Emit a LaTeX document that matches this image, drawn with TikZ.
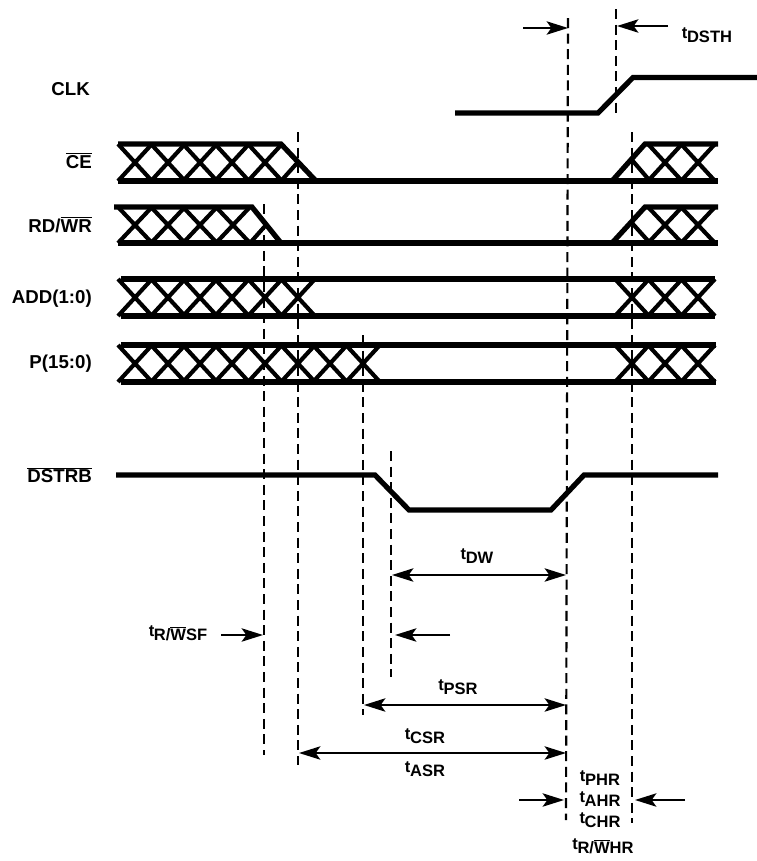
\documentclass[tikz,border=0pt]{standalone}
\usepackage{fontspec}
\setmainfont{Liberation Sans}
\usetikzlibrary{arrows.meta}
\newcommand{\barred}[1]{\ensuremath{\overline{\mbox{#1}}}}
\newcommand{\tsub}[1]{t\kern-0.3pt\raisebox{-3pt}{#1}}
\tikzset{
    wave/.style={line width=3.9pt, line join=miter},
    xing/.style={line width=3.1pt},
    guide/.style={line width=1.6pt, dash pattern=on 7.5pt off 4.2pt},
    dim/.style={line width=1.6pt, -{Stealth[length=16pt,width=10pt,inset=3.5pt]}},
    dimboth/.style={line width=1.6pt, {Stealth[length=16pt,width=10pt,inset=3.5pt]}-{Stealth[length=16pt,width=10pt,inset=3.5pt]}},
    sig/.style={font=\bfseries\fontsize{14}{16}\selectfont, anchor=east, inner sep=0pt},
    tname/.style={font=\bfseries\fontsize{12.4}{14}\selectfont, inner sep=0pt}
}
\begin{document}
\begin{tikzpicture}[x=0.75pt, y=-0.75pt]
    \useasboundingbox (0,0) rectangle (757,861);

    % signal names
    \node[sig] (clk) at (90,89.5) {CLK};
    \node[sig] (ce) at (92,160.5) {\barred{CE}};
    \node[sig] (rdwr) at (92,224.5) {RD/\barred{WR}};
    \node[sig] (add) at (92,299) {ADD(1:0)};
    \node[sig] (pbus) at (92,364) {P(15:0)};
    \node[sig] (dstrb) at (92,475) {\barred{DSTRB}};

    % guide lines
    \draw[guide] (264,204) -- (264,755);
    \draw[guide] (298,132) -- (298,765);
    \draw[guide] (363,335) -- (363,715);
    \draw[guide] (391,451) -- (391,677);
    \draw[guide] (568,18) -- (566,820);
    \draw[guide] (616,9) -- (616,118);
    \draw[guide] (632,132) -- (632,823);

    % CLK and DSTRB
    \draw[wave] (455,113) -- (598,113) -- (633,77.5) -- (757,77.5);
    \draw[wave] (116,475) -- (375,475) -- (409,510) -- (551,510) -- (584,475) -- (718,475);

    % CE
    \draw[wave] (118,144) -- (281,144) -- (316,181);
    \draw[wave] (118,181) -- (718,181);
    \draw[wave] (612,181) -- (645,144) -- (718,144);
    \foreach \c in {135,168,200,232,265}
        \draw[xing] (\c-17,144) -- (\c+17,181) (\c-17,181) -- (\c+17,144);
    \draw[xing] (281,181) -- (298,162);
    \draw[xing] (632,160) -- (650,181);
    \foreach \c in {665,698}
        \draw[xing] (\c-17,144) -- (\c+17,181) (\c-17,181) -- (\c+17,144);

    % RD/WR
    \draw[wave] (114,207) -- (252,207) -- (281,243);
    \draw[wave] (118,243) -- (718,243);
    \draw[wave] (612,243) -- (645,207) -- (718,207);
    \foreach \c in {135,168,200,233}
        \draw[xing] (\c-17,207) -- (\c+17,243) (\c-17,243) -- (\c+17,207);
    \draw[xing] (250,243) -- (266,225);
    \draw[xing] (632,223) -- (650,243);
    \foreach \c in {665,698}
        \draw[xing] (\c-17,207) -- (\c+17,243) (\c-17,243) -- (\c+17,207);

    % ADD(1:0)
    \draw[wave] (121,279) -- (715,279);
    \draw[wave] (121,316) -- (715,316);
    \foreach \c in {135,168,200,232,265,298,632,665,698}
        \draw[xing] (\c-17,279) -- (\c+17,316) (\c-17,316) -- (\c+17,279);

    % P(15:0)
    \draw[wave] (121,345) -- (716,345);
    \draw[wave] (121,382) -- (716,382);
    \foreach \c in {135,168,200,232,265,298,330,363,632,665,698}
        \draw[xing] (\c-17,345) -- (\c+17,382) (\c-17,382) -- (\c+17,345);

    % arrow ends
    \coordinate (dsthA) at (523,28);
    \coordinate (dsthB) at (568,28);
    \coordinate (dsthC) at (668,26);
    \coordinate (dsthD) at (617,26);
    \coordinate (dwL) at (392,575);
    \coordinate (dwR) at (566,575);
    \coordinate (rwsfA) at (221,635);
    \coordinate (rwsfB) at (263,635);
    \coordinate (dwA) at (450,635);
    \coordinate (dwB) at (395,635);
    \coordinate (psrL) at (364,705);
    \coordinate (psrR) at (566,705);
    \coordinate (csrL) at (299,753);
    \coordinate (csrR) at (566,753);
    \coordinate (phrA) at (519,800);
    \coordinate (phrB) at (564,800);
    \coordinate (phrC) at (685,800);
    \coordinate (phrD) at (635,800);

    \draw[dim] (dsthA) -- (dsthB);
    \draw[dim] (dsthC) -- (dsthD);
    \draw[dimboth] (dwL) -- (dwR);
    \draw[dim] (rwsfA) -- (rwsfB);
    \draw[dim] (dwA) -- (dwB);
    \draw[dimboth] (psrL) -- (psrR);
    \draw[dimboth] (csrL) -- (csrR);
    \draw[dim] (phrA) -- (phrB);
    \draw[dim] (phrC) -- (phrD);

    % timing names
    \node[tname] (tdsth) at (707,35) {\tsub{DSTH}};
    \node[tname] (tdw) at (477,556) {\tsub{DW}};
    \node[tname] (trwsf) at (178,633) {\tsub{R/\barred{W}SF}};
    \node[tname] (tpsr) at (458,687) {\tsub{PSR}};
    \node[tname] (tcsr) at (425,736) {\tsub{CSR}};
    \node[tname] (tasr) at (425,769) {\tsub{ASR}};
    \node[tname] (tphr) at (600,778) {\tsub{PHR}};
    \node[tname] (tahr) at (600,799) {\tsub{AHR}};
    \node[tname] (tchr) at (600,820) {\tsub{CHR}};
    \node[tname] (trwhr) at (603,846) {\tsub{R/\barred{W}HR}};
\end{tikzpicture}
\end{document}
